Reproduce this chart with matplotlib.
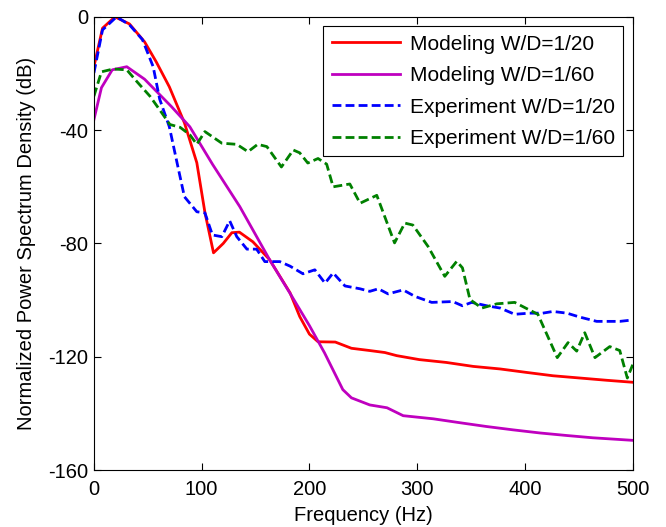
import matplotlib
matplotlib.use("Agg")
import matplotlib.pyplot as plt

plt.rcParams['font.family'] = ['Liberation Sans', 'DejaVu Sans']
plt.rcParams['axes.unicode_minus'] = False

mod20_f = [0, 8, 19.5, 33, 47, 58, 70, 84, 95.5, 103, 111, 120, 128, 135, 147.5, 163, 182, 191, 200, 208, 224, 239, 256, 270, 281, 302, 327, 352, 377, 401, 426, 451, 476, 500]
mod20_db = [-17.6, -4, 0, -2.5, -8.8, -16, -24.7, -37.4, -51.5, -69, -83.3, -80, -76.2, -76, -79.4, -85.7, -97.4, -105.8, -112, -114.7, -114.8, -117, -117.8, -118.5, -119.6, -121, -122, -123.4, -124.3, -125.5, -126.7, -127.5, -128.3, -129]

mod60_f = [0, 7, 17, 30.5, 47, 72, 89, 110, 135.4, 163, 183.6, 200, 214, 231, 239, 256, 272, 287, 315, 340, 364, 389, 414, 439, 463, 500]
mod60_db = [-36.3, -25, -18.7, -17.6, -22, -31.7, -38.8, -52, -67, -85.7, -98.6, -109, -118.6, -131.6, -134.5, -137, -138, -140.8, -141.9, -143.3, -144.6, -145.8, -146.9, -147.8, -148.6, -149.5]

exp20_f = [0, 8, 21, 33, 45, 55, 61, 70, 78, 84, 95.5, 103, 110, 118.7, 126, 132.6, 142, 151, 158.6, 172.5, 182, 194, 205, 214.5, 222, 233, 247, 256, 264, 273, 287, 298, 313.5, 333, 342, 350.6, 364.6, 377, 390.5, 404, 416.5, 426, 439, 451, 466.6, 488, 500]
exp20_db = [-19.8, -4.6, 0, -2.8, -8, -17.6, -29, -38.8, -53, -63.5, -68.8, -69.2, -77, -77.6, -72, -77.6, -82, -82, -86.4, -86.4, -88, -90.7, -89.3, -94, -90.4, -95, -96, -96.9, -96, -97.8, -96.4, -98.7, -100.8, -100.5, -102, -100.8, -102, -102.8, -105, -104.6, -104.6, -104, -104.6, -106, -107.5, -107.5, -107]

exp60_f = [0, 7, 18, 30.5, 40, 52, 61, 70.5, 80, 89, 95.5, 103, 118.7, 132.6, 143, 152, 160.5, 174, 185, 191, 198.5, 208, 216, 222, 237.5, 247, 262.5, 279, 288.5, 296, 310, 325.6, 336.7, 342, 349, 360, 374, 390.5, 401.7, 412, 430, 440, 448, 455.5, 465, 478.7, 488, 495, 500]
exp60_db = [-28, -19.4, -18.4, -18.7, -22.9, -28, -32.8, -38, -39, -41.6, -45, -40.5, -44.6, -45, -47.6, -45, -45.8, -53, -47, -48, -51.6, -50, -52, -60, -59, -65.8, -63, -79.8, -72.8, -73.5, -81, -91.6, -86.3, -88.6, -99.8, -102.8, -101.3, -100.8, -103, -105, -120.3, -115, -118, -111.5, -120.3, -116.4, -117.8, -127.5, -122.8]

xticks = [0, 100, 200, 300, 400, 500]
yticks = [0, -40, -80, -120, -160]
labels = ['Modeling W/D=1/20', 'Modeling W/D=1/60', 'Experiment W/D=1/20', 'Experiment W/D=1/60']

fig = plt.figure(figsize=(6.66, 5.27), dpi=100)
ax = fig.add_axes([0.141, 0.108, 0.809, 0.860])

dash = (0, (3.2, 1.5))
ax.plot(mod20_f, mod20_db, color=(1, 0, 0), lw=2.0, label=labels[0])
ax.plot(mod60_f, mod60_db, color=(0.75, 0, 0.75), lw=2.0, label=labels[1])
ax.plot(exp20_f, exp20_db, color=(0, 0, 1), lw=2.0, ls=dash, label=labels[2])
ax.plot(exp60_f, exp60_db, color=(0, 0.5, 0), lw=2.0, ls=dash, label=labels[3])

ax.set_xlim(0, 500)
ax.set_ylim(-160, 0)
ax.set_xticks(xticks)
ax.set_yticks(yticks)
ax.tick_params(direction='in', top=True, right=True, labelsize=14.5, length=5, width=0.8)
ax.tick_params(axis='x', pad=7)
ax.tick_params(axis='y', pad=4)
ax.set_xlabel('Frequency (Hz)', fontsize=14.5, labelpad=5.5)
ax.set_ylabel('Normalized Power Spectrum Density (dB)', fontsize=14.5, labelpad=9)

leg = ax.legend(loc='upper right', fontsize=15, frameon=True, fancybox=False,
                edgecolor='black', framealpha=1, handlelength=3.3, handletextpad=0.45,
                borderaxespad=0.45, labelspacing=0.6, borderpad=0.4)
leg.get_frame().set_linewidth(0.8)

fig.savefig('out.png', dpi=100)
